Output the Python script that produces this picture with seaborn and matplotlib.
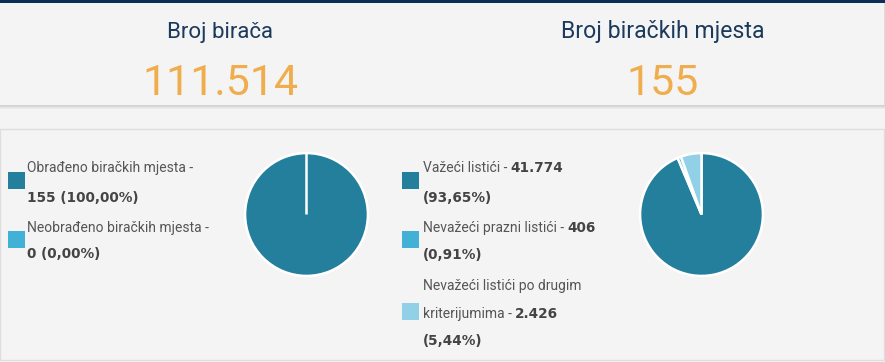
import matplotlib
matplotlib.use("Agg")
import matplotlib.pyplot as plt
from matplotlib.patches import Rectangle
import seaborn as sns

# ---- data ----
top_titles = ["Broj birača", "Broj biračkih mjesta"]
top_values = ["111.514", "155"]

pie1_labels = ["Obrađeno biračkih mjesta -", "Neobrađeno biračkih mjesta -"]
pie1_values = [155, 0]
pie1_texts = ["155 (100,00%)", "0 (0,00%)"]

pie2_labels = ["Važeći listići", "Nevažeći prazni listići", "Nevažeći listići po drugim kriterijumima"]
pie2_values = [41774, 406, 2426]
pie2_counts = ["41.774", "406", "2.426"]
pie2_pcts = ["(93,65%)", "(0,91%)", "(5,44%)"]

colors = ["#237f9c", "#43b1d6", "#92d0e7"]

sns.set_theme(style="white")
plt.rcParams['font.family'] = ['Roboto', 'DejaVu Sans']

W, H = 885, 362
fig = plt.figure(figsize=(W / 100, H / 100), dpi=100)
fig.patch.set_facecolor("#f4f4f4")
bg = fig.add_axes([0, 0, 1, 1])
bg.set_xlim(0, W)
bg.set_ylim(H, 0)
bg.axis("off")

# top navy bar
bg.add_patch(Rectangle((0, 0), W, 3, color="#0d2e55", lw=0))
# top panel shadow
for i, c in enumerate(["#d2d2d2", "#d9d9d9", "#e3e3e3", "#ececec"]):
    bg.add_patch(Rectangle((0, 105 + i), W, 1, color=c, lw=0))
bg.add_patch(Rectangle((883.5, 3), 1.5, 103, color="#dcdcdc", lw=0))
# bottom panel border
bg.add_patch(Rectangle((0, 129), 883.5, 231, facecolor="none", edgecolor="#dedede", lw=1))

navy = "#1b3a5c"
orange = "#f0ad4e"
for cx, t, v, fs in zip([220, 663], top_titles, top_values, [16.0, 16.6]):
    bg.text(cx, 38, t, ha="center", va="baseline", fontsize=fs, color=navy)
    bg.text(cx, 95, v, ha="center", va="baseline", fontsize=31, color=orange)

reg_col = "#555555"
bold_col = "#444444"
reg_fs = 10.0
bold_fs = 9.8

fig.canvas.draw()
renderer = fig.canvas.get_renderer()


def line(x, y, reg, bold=None):
    x1 = x
    if reg:
        t = bg.text(x, y, reg, ha="left", va="baseline", fontsize=reg_fs, color=reg_col)
        bb = t.get_window_extent(renderer=renderer)
        x1 = bb.x1 + 3  # pixels (dpi 100, 1:1)
    if bold:
        bg.text(x1, y, bold, ha="left", va="baseline", fontsize=bold_fs,
                color=bold_col, fontweight="bold", family="DejaVu Sans")


def square(x, y, c):
    bg.add_patch(Rectangle((x, y), 17, 17, color=c, lw=0))


# left legend
square(8, 172, colors[0])
line(27, 172, pie1_labels[0])
line(27, 202, None, pie1_texts[0])
square(8, 231, colors[1])
line(27, 232, pie1_labels[1])
line(27, 258, None, pie1_texts[1])

# right legend
square(402, 172, colors[0])
line(423, 172, pie2_labels[0] + " -", pie2_counts[0])
line(423, 202, None, pie2_pcts[0])
square(402, 231, colors[1])
line(423, 232, pie2_labels[1] + " -", pie2_counts[1])
line(423, 259, None, pie2_pcts[1])
square(402, 303, colors[2])
line(423, 290, "Nevažeći listići po drugim")
line(423, 318, "kriterijumima -", pie2_counts[2])
line(423, 345, None, pie2_pcts[2])


def pie_axes(cx, cy, side=130):
    left = (cx - side / 2) / W
    bottom = (H - cy - side / 2) / H
    ax = fig.add_axes([left, bottom, side / W, side / H])
    return ax


wp = dict(edgecolor="white", linewidth=1.8)
ax1 = pie_axes(306.5, 214.5)
ax1.pie(pie1_values, colors=colors[:2], startangle=90, counterclock=False,
        radius=0.945, wedgeprops=wp)
ax1.set_xlim(-1, 1)
ax1.set_ylim(-1, 1)
ax1.axis("off")

ax2 = pie_axes(701.5, 214.5)
ax2.pie(pie2_values, colors=colors, startangle=90, counterclock=False,
        radius=0.945, wedgeprops=wp)
ax2.set_xlim(-1, 1)
ax2.set_ylim(-1, 1)
ax2.axis("off")

fig.savefig("out.png", dpi=100, facecolor=fig.get_facecolor())
